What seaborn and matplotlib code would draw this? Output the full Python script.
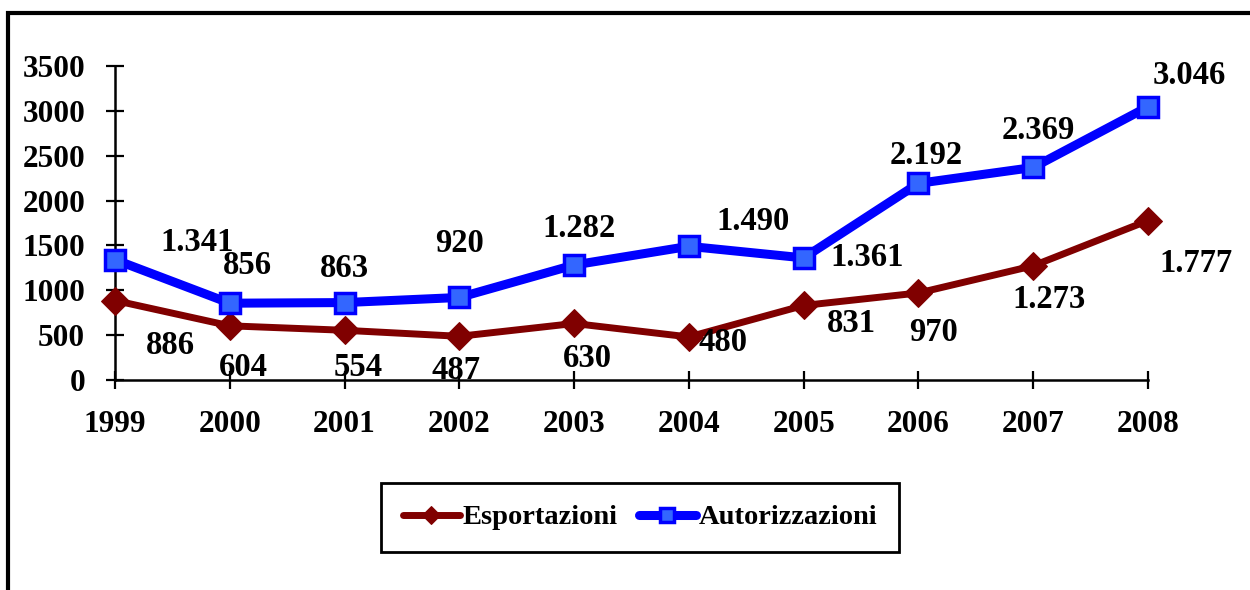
import matplotlib
matplotlib.use("Agg")
import matplotlib.pyplot as plt
import seaborn as sns
import pandas as pd
from matplotlib.patches import Rectangle

years = [1999, 2000, 2001, 2002, 2003, 2004, 2005, 2006, 2007, 2008]
esportazioni = [886, 604, 554, 487, 630, 480, 831, 970, 1273, 1777]
autorizzazioni = [1341, 856, 863, 920, 1282, 1490, 1361, 2192, 2369, 3046]
yticks = [0, 500, 1000, 1500, 2000, 2500, 3000, 3500]

# label offsets in pixels (dx, dy with y downward)
off_aut = [(82, -17), (18, -38), (0, -34), (0, -54), (5, -36), (64, -25), (63, 0), (8, -28), (5, -37), (41, -31)]
off_esp = [(55, 45), (14, 42), (14, 37), (-3, 34), (13, 35), (34, 6), (48, 18), (15, 40), (16, 34), (48, 43)]

sns.set_theme(style="white")
plt.rcParams['font.family'] = ['Liberation Serif', 'DejaVu Serif']
plt.rcParams['font.weight'] = 'bold'
plt.rcParams['text.color'] = 'black'

df = pd.DataFrame({
    "Anno": years * 2,
    "Valore": esportazioni + autorizzazioni,
    "Serie": ["Esportazioni"] * len(years) + ["Autorizzazioni"] * len(years),
})

fig = plt.figure(figsize=(12.5, 5.9), dpi=100)
ax = fig.add_axes([115/1250, 1-380/590, (1148-115)/1250, (380-66)/590])

sns.lineplot(data=df[df.Serie == "Esportazioni"], x="Anno", y="Valore", ax=ax,
             color="#800000", linewidth=5, marker="D", markersize=14,
             markerfacecolor="#800000", markeredgecolor="#800000",
             label="Esportazioni", clip_on=False, zorder=3)
sns.lineplot(data=df[df.Serie == "Autorizzazioni"], x="Anno", y="Valore", ax=ax,
             color="#0000FF", linewidth=6.5, marker="s", markersize=14.5,
             markerfacecolor="#3366FF", markeredgecolor="#0000FF", markeredgewidth=2.5,
             label="Autorizzazioni", clip_on=False, zorder=4)

ax.set_xlim(1999, 2008)
ax.set_ylim(0, 3500)
ax.set_xticks(years)
ax.set_yticks(yticks)
ax.set_xlabel("")
ax.set_ylabel("")
for s in ["top", "right"]:
    ax.spines[s].set_visible(False)
for s in ["left", "bottom"]:
    ax.spines[s].set_color("black")
    ax.spines[s].set_linewidth(1.8)
ax.tick_params(axis="both", which="major", bottom=True, left=True, direction="inout",
               length=13, width=1.6, colors="black", labelsize=22.5, pad=15)
for lab in ax.get_xticklabels() + ax.get_yticklabels():
    lab.set_fontweight("bold")

def fmt(v):
    return f"{v:,}".replace(",", ".")

for x, v, (dx, dy) in zip(years, autorizzazioni, off_aut):
    ax.annotate(fmt(v), (x, v), xytext=(dx * 0.72, -dy * 0.72), textcoords="offset points",
                ha="center", va="center", fontsize=23.5, fontweight="bold", color="black",
                annotation_clip=False)
for x, v, (dx, dy) in zip(years, esportazioni, off_esp):
    ax.annotate(fmt(v), (x, v), xytext=(dx * 0.72, -dy * 0.72), textcoords="offset points",
                ha="center", va="center", fontsize=23.5, fontweight="bold", color="black",
                annotation_clip=False)

ax.get_legend().remove()
handles, labels = ax.get_legend_handles_labels()
leg = fig.legend(handles, labels, loc="center", bbox_to_anchor=(640/1250, 1-517.5/590),
                 ncol=2, frameon=True, fancybox=False, framealpha=1, handlelength=2.0,
                 handletextpad=0.1, columnspacing=0.75, borderpad=0.75, markerscale=0.65,
                 labelcolor="black", prop={"size": 20.5, "weight": "bold"})
leg.get_frame().set_edgecolor("black")
leg.get_frame().set_linewidth(2)

# outer chart frame
fig.patches.append(Rectangle((8/1250, -0.1), 1.2, 1.1 - 13/590, transform=fig.transFigure,
                             fill=False, edgecolor="black", linewidth=3))

fig.savefig("out.png", dpi=100)
